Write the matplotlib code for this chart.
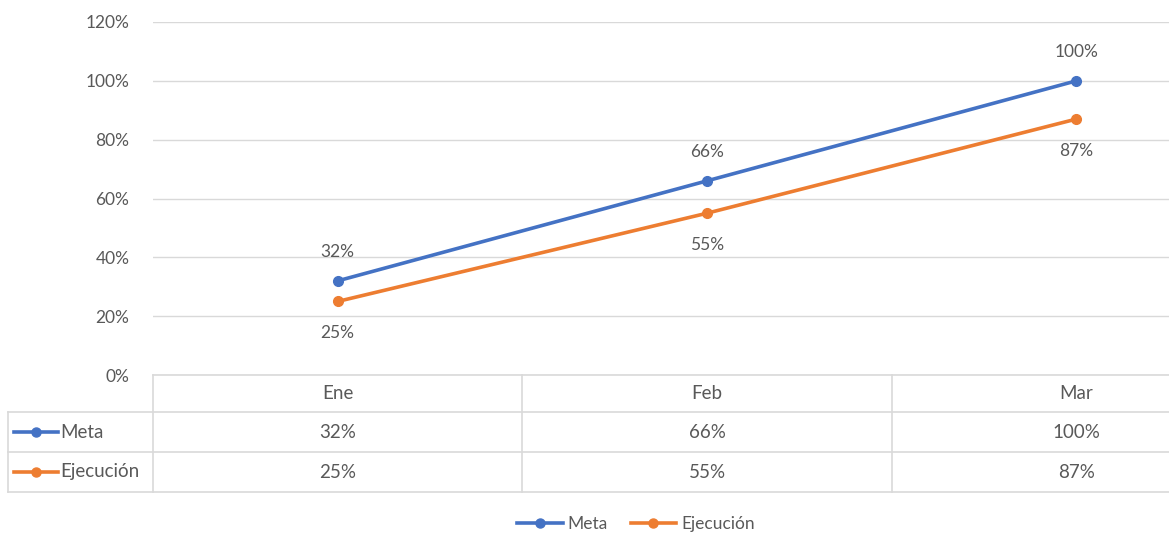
import matplotlib.pyplot as plt
from matplotlib.lines import Line2D
import matplotlib.transforms as mtransforms

plt.rcParams['font.family'] = ['Lato', 'DejaVu Sans']

# data
meses = ['Ene', 'Feb', 'Mar']
meta = [0.32, 0.66, 1.00]
ejecucion = [0.25, 0.55, 0.87]
series = [('Meta', meta, '#4472C4'), ('Ejecución', ejecucion, '#ED7D31')]
yticks = [0, 0.2, 0.4, 0.6, 0.8, 1.0, 1.2]

W, H = 1169, 536
txt = '#595959'
grid = '#D9D9D9'

fig = plt.figure(figsize=(W / 100, H / 100), dpi=100)

def fx(px):
    return px / W

def fy(py):
    return 1 - py / H

# plot area (category band continues past the right edge)
x0, x1, ytop, ybot = 153, 1261, 22, 375
ax = fig.add_axes([fx(x0), fy(ybot), fx(x1 - x0), fy(ytop) - fy(ybot)])
ax.set_xlim(-0.5, len(meses) - 0.5)
ax.set_ylim(0, 1.2)
ax.set_yticks(yticks)
ax.set_yticklabels([f'{int(round(v * 100))}%' for v in yticks], color=txt, fontsize=12.5)
ax.tick_params(axis='y', length=0, pad=17)
ax.set_xticks([])
for s in ax.spines.values():
    s.set_visible(False)
ax.grid(axis='y', color=grid, linewidth=1)
ax.set_axisbelow(True)

xs = list(range(len(meses)))
for i, (name, vals, col) in enumerate(series):
    ax.plot(xs, vals, color=col, linewidth=2.6, marker='o', markersize=7,
            solid_capstyle='round', clip_on=False, zorder=3)
    for x, v in zip(xs, vals):
        off = 21 if i == 0 else -23
        ax.annotate(f'{int(round(v * 100))}%', (x, v), xytext=(0, off),
                    textcoords='offset points', ha='center', va='center',
                    color=txt, fontsize=12.5)

# data table under the plot
blend = mtransforms.blended_transform_factory(ax.transData, fig.transFigure)
rows = [375, 412, 452, 492]
left = 8
lw = 1.2
fig.add_artist(Line2D([fx(x0), 1], [fy(rows[0])] * 2, color=grid, lw=lw))
for r in rows[1:]:
    fig.add_artist(Line2D([fx(left), 1], [fy(r)] * 2, color=grid, lw=lw))
fig.add_artist(Line2D([fx(left)] * 2, [fy(rows[1]), fy(rows[3])], color=grid, lw=lw))
for b in range(len(meses) + 1):
    xb = b - 0.5
    fig.add_artist(Line2D([xb, xb], [fy(rows[0]), fy(rows[3])], color=grid, lw=lw,
                          transform=blend))

def row_mid(k):
    return fy((rows[k] + rows[k + 1]) / 2)

for x, m in zip(xs, meses):
    fig.text(x, row_mid(0), m, transform=blend, ha='center', va='center',
             color=txt, fontsize=13.5)
for k, (name, vals, col) in enumerate(series, start=1):
    for x, v in zip(xs, vals):
        fig.text(x, row_mid(k), f'{int(round(v * 100))}%', transform=blend,
                 ha='center', va='center', color=txt, fontsize=13.5)
    yk = row_mid(k)
    fig.add_artist(Line2D([fx(14), fx(58)], [yk, yk], color=col, lw=2.6))
    fig.add_artist(Line2D([fx(36)], [yk], color=col, marker='o', markersize=6.5))
    fig.text(fx(60), yk, name, ha='left', va='center', color=txt, fontsize=13.5)

# legend at the bottom
handles = [Line2D([], [], color=col, lw=2.6, marker='o', markersize=6.5)
           for _, _, col in series]
fig.legend(handles, [s[0] for s in series], loc='center',
           bbox_to_anchor=(fx(636), fy(524)), ncol=2, frameon=False,
           fontsize=12.5, labelcolor=txt, handlelength=2.6, handletextpad=0.3,
           columnspacing=1.3)

fig.savefig('out.png', dpi=100)
